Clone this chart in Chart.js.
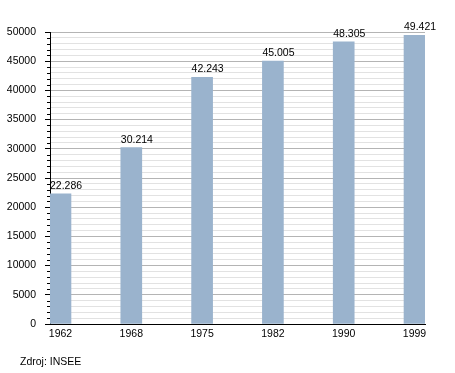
<!DOCTYPE html>
<html>
<head>
<meta charset="utf-8">
<script src="https://cdn.jsdelivr.net/npm/chart.js@4"></script>
<style>
  html, body { margin: 0; padding: 0; background: #fff; }
  #wrap { position: relative; width: 455px; height: 373px; }
  #source { position: absolute; left: 20px; top: 355px; font: 10.5px "Liberation Sans", Arial, sans-serif; color: #000; }
</style>
</head>
<body>
<div id="wrap">
  <canvas id="chart" width="455" height="373"></canvas>
  <div id="source">Zdroj: INSEE</div>
</div>
<script>
// population by census year
const years = ['1962', '1968', '1975', '1982', '1990', '1999'];
const population = [22286, 30214, 42243, 45005, 48305, 49421];
const valueLabels = ['22.286', '30.214', '42.243', '45.005', '48.305', '49.421'];

const barColor = '#9ab3cd';
const majorGrid = '#b4b4b4';
const minorGrid = '#e2e2e2';
const fontFamily = '"Liberation Sans", Arial, sans-serif';

document.addEventListener('DOMContentLoaded', function() {
    const ctx = document.getElementById('chart').getContext('2d');

    // small ticks every 1000 on the y axis, longer ones come from Chart.js
    const minorTicks = {
        id: 'minorTicks',
        afterDraw(chart) {
            const y = chart.scales.y;
            const left = chart.chartArea.left;
            const c = chart.ctx;
            c.save();
            c.strokeStyle = '#000';
            c.lineWidth = 1;
            y.ticks.forEach(t => {
                if (t.value % 5000 === 0) return;
                const py = Math.round(y.getPixelForValue(t.value)) + 0.5;
                c.beginPath();
                c.moveTo(left - 3, py);
                c.lineTo(left, py);
                c.stroke();
            });
            c.restore();
        }
    };

    // numbers above each bar
    const barValues = {
        id: 'barValues',
        afterDatasetsDraw(chart) {
            const meta = chart.getDatasetMeta(0);
            const c = chart.ctx;
            c.save();
            c.fillStyle = '#000';
            c.font = '10.5px ' + fontFamily;
            c.textAlign = 'left';
            c.textBaseline = 'alphabetic';
            meta.data.forEach((bar, i) => {
                c.fillText(valueLabels[i], bar.x - bar.width / 2, bar.y - 5);
            });
            c.restore();
        }
    };

    new Chart(ctx, {
        type: 'bar',
        data: {
            datasets: [{
                data: population.map((v, i) => ({ x: i, y: v })),
                backgroundColor: barColor,
                borderWidth: 0,
                barThickness: 21
            }]
        },
        options: {
            responsive: false,
            animation: false,
            layout: { padding: { left: 0, top: 32, right: 30, bottom: 0 } },
            plugins: {
                legend: { display: false },
                tooltip: { enabled: false }
            },
            scales: {
                x: {
                    type: 'linear',
                    min: -0.148,
                    max: 5.148,
                    offset: false,
                    grid: { display: true, offset: false, drawOnChartArea: false, drawTicks: false },
                    border: { color: '#000', width: 1 },
                    ticks: {
                        stepSize: 1,
                        includeBounds: false,
                        autoSkip: false,
                        maxRotation: 0,
                        padding: 4,
                        color: '#000',
                        font: { family: fontFamily, size: 10.5 },
                        callback: v => years[v] !== undefined ? years[v] : ''
                    },
                    afterFit: scale => { scale.height = 49; }
                },
                y: {
                    min: 0,
                    max: 50000,
                    grid: {
                        color: c => c.tick && c.tick.value % 5000 === 0 ? majorGrid : minorGrid,
                        tickColor: c => c.tick && c.tick.value % 5000 === 0 ? '#000' : 'rgba(0,0,0,0)',
                        tickLength: 5
                    },
                    border: { color: '#000', width: 1 },
                    ticks: {
                        stepSize: 1000,
                        autoSkip: false,
                        padding: 9,
                        color: '#000',
                        font: { family: fontFamily, size: 10.5 },
                        callback: v => v % 5000 === 0 ? String(v) : ''
                    },
                    afterFit: scale => { scale.width = 50; }
                }
            }
        },
        plugins: [minorTicks, barValues]
    });
});
</script>
</body>
</html>
